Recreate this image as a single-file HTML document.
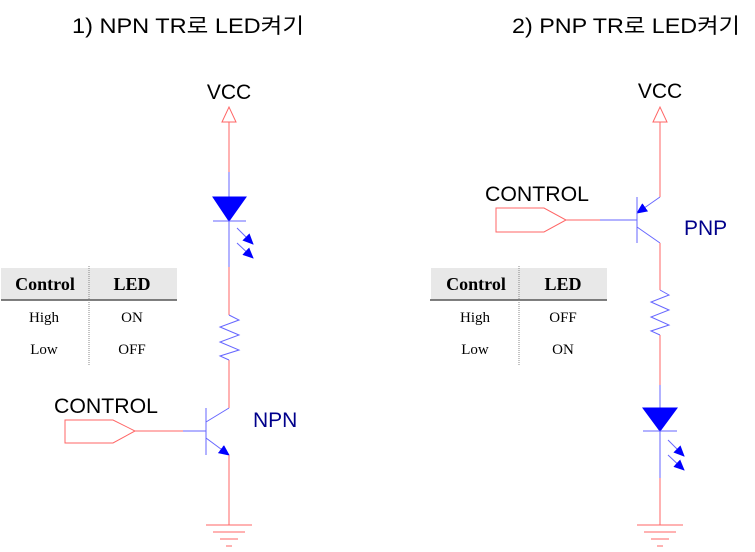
<!DOCTYPE html>
<html><head><meta charset="utf-8"><style>body{margin:0;background:#fff}svg{display:block}</style></head><body>
<svg width="755" height="552" xmlns="http://www.w3.org/2000/svg">
<defs><marker id="a" markerWidth="11" markerHeight="10" refX="10" refY="5" orient="auto" markerUnits="userSpaceOnUse"><path d="M0,0L11,5L0,10z" fill="#00f"/></marker></defs>
<g font-family="'Liberation Sans','Noto Sans CJK KR',sans-serif" font-size="21" fill="#000">
<text x="72" y="33" textLength="232" lengthAdjust="spacingAndGlyphs">1) NPN TR로 LED켜기</text>
<text x="512" y="33" textLength="228" lengthAdjust="spacingAndGlyphs">2) PNP TR로 LED켜기</text>
<text x="229" y="99" text-anchor="middle">VCC</text>
<text x="660" y="98" text-anchor="middle">VCC</text>
<text x="54" y="413" textLength="104" lengthAdjust="spacingAndGlyphs">CONTROL</text>
<text x="485" y="201" textLength="104" lengthAdjust="spacingAndGlyphs">CONTROL</text>
<text x="253" y="427" fill="#00008b">NPN</text>
<text x="684" y="235" fill="#00008b">PNP</text>
</g>
<g fill="none" stroke-width="1">
<path d="M222,122L229,107L236,122Z" stroke="#f66"/>
<path d="M229,122V172" stroke="#f66"/>
<path d="M229,172V197M229,221V267" stroke="#66f"/>
<path d="M213,197H246L229,221Z" fill="#00f" stroke="#00f"/>
<path d="M213,221H246" stroke="#66f"/>
<path d="M237,228L253,244" stroke="#66f" marker-end="url(#a)"/>
<path d="M237,243L253,258" stroke="#66f" marker-end="url(#a)"/>
<path d="M229,267V315M229,360V408" stroke="#f66"/>
<path d="M229,315L239,320L220,327L239,335L220,342L239,350L220,356L229,360" stroke="#66f"/>
<path d="M229,408L206,422M206,408V455M183,431H206" stroke="#66f"/>
<path d="M206,438L229,455" stroke="#66f" marker-end="url(#a)"/>
<path d="M135,431H183" stroke="#f66"/>
<path d="M65,420H113L135,431L113,443H65Z" stroke="#f66"/>
<path d="M229,455V525M206,525H252M213,532H245M220,539H238M226,546H232" stroke="#f66"/>
<path d="M653,122L660,107L667,122Z" stroke="#f66"/>
<path d="M660,122V197" stroke="#f66"/>
<path d="M660,197L637,213" stroke="#66f" marker-end="url(#a)"/>
<path d="M637,197V243M637,227L660,243M600,220H637" stroke="#66f"/>
<path d="M566,220H600" stroke="#f66"/>
<path d="M496,208H544L566,220L544,232H496Z" stroke="#f66"/>
<path d="M660,243V290M660,335V385" stroke="#f66"/>
<path d="M660,290L669,295L651,302L669,310L651,317L669,325L651,331L660,335" stroke="#66f"/>
<path d="M660,385V408M660,431V478" stroke="#66f"/>
<path d="M643,408H677L660,431Z" fill="#00f" stroke="#00f"/>
<path d="M643,431H677" stroke="#66f"/>
<path d="M668,440L684,456" stroke="#66f" marker-end="url(#a)"/>
<path d="M668,455L684,470" stroke="#66f" marker-end="url(#a)"/>
<path d="M660,478V525M637,525H683M644,532H676M651,539H669M657,546H663" stroke="#f66"/>
</g>
<g font-family="'Liberation Serif',serif">
<rect x="1" y="268" width="176" height="32" fill="#e8e8e8"/>
<path d="M1,300H177" stroke="#555" stroke-width="1.5"/>
<path d="M89,266V366" stroke="#888" stroke-dasharray="1,1"/>
<text x="45" y="290" font-size="18" font-weight="bold" text-anchor="middle">Control</text>
<text x="132" y="290" font-size="18" font-weight="bold" text-anchor="middle">LED</text>
<text x="44" y="322" font-size="15" text-anchor="middle">High</text>
<text x="132" y="322" font-size="15" text-anchor="middle">ON</text>
<text x="44" y="354" font-size="15" text-anchor="middle">Low</text>
<text x="132" y="354" font-size="15" text-anchor="middle">OFF</text>
<rect x="431" y="268" width="176" height="32" fill="#e8e8e8"/>
<path d="M430,300H607" stroke="#555" stroke-width="1.5"/>
<path d="M519,266V366" stroke="#888" stroke-dasharray="1,1"/>
<text x="476" y="290" font-size="18" font-weight="bold" text-anchor="middle">Control</text>
<text x="563" y="290" font-size="18" font-weight="bold" text-anchor="middle">LED</text>
<text x="475" y="322" font-size="15" text-anchor="middle">High</text>
<text x="563" y="322" font-size="15" text-anchor="middle">OFF</text>
<text x="475" y="354" font-size="15" text-anchor="middle">Low</text>
<text x="563" y="354" font-size="15" text-anchor="middle">ON</text>
</g>
</svg>
</body></html>
